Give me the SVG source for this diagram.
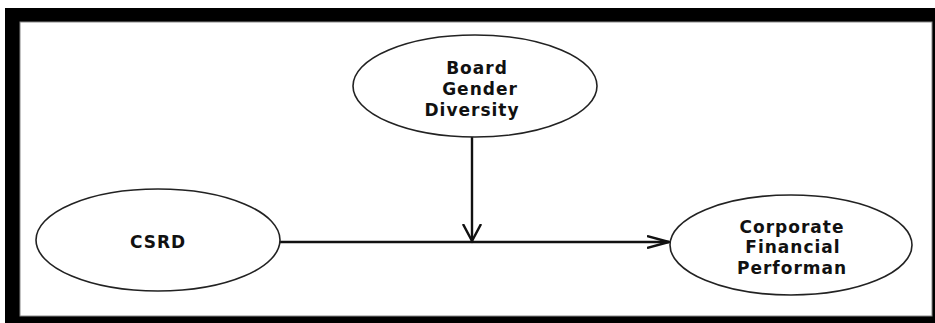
<svg xmlns="http://www.w3.org/2000/svg" width="935" height="323" viewBox="0 0 935 323">
<style>
.node ellipse{fill:#fff;stroke:#222;stroke-width:1.6}
.node text{font-family:"DejaVu Sans","Liberation Sans",sans-serif;font-weight:bold;font-size:17px;letter-spacing:1px;fill:#111;text-anchor:middle}
.conn{stroke:#111;stroke-width:2.4;fill:none}
</style>
<defs>
<marker id="arrV" markerUnits="userSpaceOnUse" viewBox="0 0 20 20" refX="17" refY="10" markerWidth="20" markerHeight="20" orient="auto">
<path d="M0,1 L17,10 L0,19" fill="none" stroke="#111" stroke-width="2.4"/>
</marker>
<marker id="arrH" markerUnits="userSpaceOnUse" viewBox="0 0 24 14" refX="22" refY="7" markerWidth="24" markerHeight="14" orient="auto">
<path d="M0,1 L22,7 L0,13" fill="none" stroke="#111" stroke-width="2.4"/>
</marker>
</defs>
<rect x="5" y="8" width="930" height="315" fill="#000"/>
<rect x="20" y="22" width="912" height="294" fill="#fff" stroke="#888" stroke-width="1"/>
<g id="connectors">
<line class="conn" x1="280" y1="242" x2="669" y2="242" marker-end="url(#arrH)"/>
<line class="conn" x1="472" y1="137" x2="472" y2="241" marker-end="url(#arrV)"/>
</g>
<g id="node-bgd" class="node">
<ellipse cx="475" cy="86" rx="122" ry="51"/>
<text x="477" y="74">Board</text>
<text x="480" y="95">Gender</text>
<text x="472" y="116">Diversity</text>
</g>
<g id="node-csrd" class="node">
<ellipse cx="158" cy="240" rx="122" ry="51"/>
<text x="158" y="248">CSRD</text>
</g>
<g id="node-cfp" class="node">
<ellipse cx="791" cy="245" rx="121" ry="50"/>
<text x="792" y="233">Corporate</text>
<text x="793" y="253">Financial</text>
<text x="792" y="274">Performan</text>
</g>
</svg>
